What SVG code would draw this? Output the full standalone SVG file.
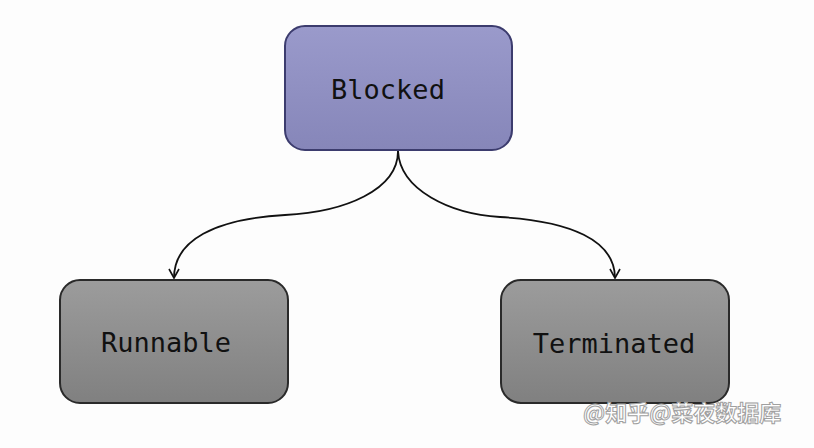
<svg xmlns="http://www.w3.org/2000/svg" width="814" height="448" viewBox="0 0 814 448">
<defs>
<linearGradient id="gBlue" x1="0" y1="0" x2="0" y2="1">
<stop offset="0" stop-color="#9a9acb"/>
<stop offset="1" stop-color="#8686b9"/>
</linearGradient>
<linearGradient id="gGray" x1="0" y1="0" x2="0" y2="1">
<stop offset="0" stop-color="#9c9c9c"/>
<stop offset="1" stop-color="#808080"/>
</linearGradient>
<marker id="arr" viewBox="0 0 12 12" refX="10" refY="6" markerWidth="12" markerHeight="12" markerUnits="userSpaceOnUse" orient="auto">
<path d="M1,1 L10,6 L1,11" fill="none" stroke="#111" stroke-width="1.6"/>
</marker>
<style>
.lbl{font-family:"DejaVu Sans Mono","Liberation Mono",monospace;font-size:27px;fill:#111;text-anchor:middle}
.gray{fill:url(#gGray);stroke:#2a2a2a;stroke-width:2}
.edge{fill:none;stroke:#111;stroke-width:1.8}
.wm{font-family:"Noto Sans CJK SC",sans-serif;font-size:22px;font-weight:bold;fill:#ffffff;stroke:#a0a0a0;stroke-width:1}
</style>
</defs>
<rect width="814" height="448" fill="#fdfdfd"/>
<g id="connectors">
<path class="edge" d="M398,151 C398,190 345,212 285,215 C215,219 174,240 174,278" marker-end="url(#arr)"/>
<path class="edge" d="M398,151 C400,190 450,214 500,217 C570,221 615,240 615,278" marker-end="url(#arr)"/>
</g>
<g id="blocked">
<rect x="285" y="26" width="227" height="124" rx="20" fill="url(#gBlue)" stroke="#3c3c6e" stroke-width="2"/>
<text class="lbl" x="388" y="99">Blocked</text>
</g>
<g id="runnable">
<rect class="gray" x="60" y="280" width="228" height="123" rx="20"/>
<text class="lbl" x="166" y="352">Runnable</text>
</g>
<g id="terminated">
<rect class="gray" x="501" y="280" width="228" height="123" rx="20"/>
<text class="lbl" x="614" y="353">Terminated</text>
</g>
<text class="wm" x="583" y="421">@知乎@菜夜数据库</text>
</svg>
